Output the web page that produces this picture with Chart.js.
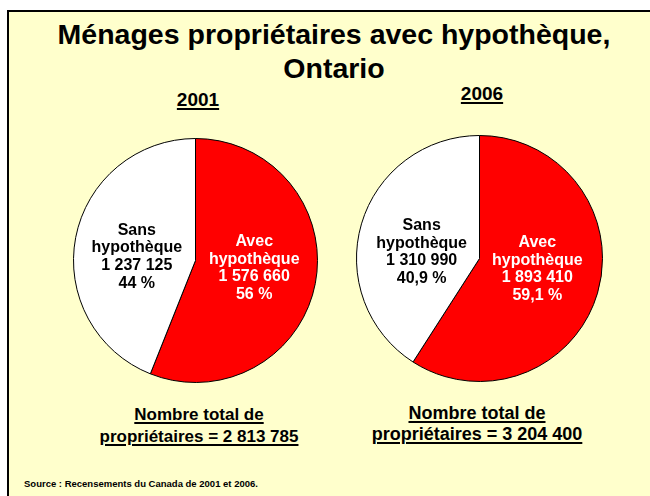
<!DOCTYPE html>
<html>
<head>
<meta charset="utf-8">
<script src="https://cdn.jsdelivr.net/npm/chart.js@4"></script>
<style>
  body { margin: 0; background: #fff; font-family: "Liberation Sans", Arial, sans-serif; }
  #cadre { position: absolute; left: 7px; top: 10px; width: 643px; height: 486px; box-sizing: border-box;
           background: #FFFFCC; border-top: 2px solid #000; border-left: 2px solid #000; }
  .txt { position: absolute; font-weight: bold; color: #000; text-align: center; white-space: nowrap; }
  .sous { text-decoration: underline; text-decoration-thickness: 2px; text-underline-offset: 2px; }
  canvas { position: absolute; }
</style>
</head>
<body>
<div id="cadre"></div>
<div class="txt" style="left:34px; top:17px; width:600px; font-size:28.5px; line-height:34px;">Ménages propriétaires avec hypothèque,<br>Ontario</div>
<div class="txt sous" id="an0" style="left:148px; top:89px; width:100px; font-size:19px; line-height:22px;"></div>
<div class="txt sous" id="an1" style="left:432px; top:83px; width:100px; font-size:19px; line-height:22px;"></div>
<div class="txt sous" id="tot0" style="left:49px; top:404px; width:300px; font-size:17px; line-height:22px;"></div>
<div class="txt sous" id="tot1" style="left:327px; top:403px; width:300px; font-size:18px; line-height:21px;"></div>
<div class="txt" style="left:24px; top:478px; font-size:9.5px; line-height:12px; text-align:left;">Source : Recensements du Canada de 2001 et 2006.</div>

<canvas id="pie2001" width="245" height="245" style="left:73px; top:138px;"></canvas>
<canvas id="pie2006" width="247" height="247" style="left:356px; top:135px;"></canvas>

<script>
const categories = ['Avec hypothèque', 'Sans hypothèque']
const annees = ['2001', '2006']
const menages2001 = [1576660, 1237125]
const menages2006 = [1893410, 1310990]
const pourcent2001 = ['56 %', '44 %']
const pourcent2006 = ['59,1 %', '40,9 %']
const totaux = [2813785, 3204400]
const couleurs = ['#FF0000', '#FFFFFF']
const couleursTexte = ['#FFFFFF', '#000000']

const fmt = n => String(n).replace(/\B(?=(\d{3})+(?!\d))/g, ' ')

annees.forEach((a, i) => {
    document.getElementById('an' + i).textContent = a
    document.getElementById('tot' + i).innerHTML = 'Nombre total de<br>propriétaires = ' + fmt(totaux[i])
})

// etiquettes au centre des tranches
const etiquettes = {
    id: 'etiquettes',
    afterDatasetsDraw(chart, args, opts) {
        const ctx = chart.ctx
        const arcs = chart.getDatasetMeta(0).data
        ctx.save()
        ctx.font = 'bold 16px "Liberation Sans", Arial, sans-serif'
        ctx.textAlign = 'center'
        ctx.textBaseline = 'middle'
        arcs.forEach((arc, i) => {
            const p = arc.getProps(['x', 'y', 'startAngle', 'endAngle', 'outerRadius'], true)
            const mid = (p.startAngle + p.endAngle) / 2
            const x = p.x + 0.49 * p.outerRadius * Math.cos(mid)
            const y = p.y + 0.245 * p.outerRadius * Math.sin(mid) + 2
            const nom = categories[i]
            const k = nom.indexOf(' ')
            const lignes = [nom.slice(0, k), nom.slice(k + 1), fmt(chart.data.datasets[0].data[i]), opts.pourcent[i]]
            ctx.fillStyle = couleursTexte[i]
            lignes.forEach((l, j) => ctx.fillText(l, x, y + (j - 1.5) * 17.6))
        })
        ctx.restore()
    }
}

const faireCamembert = (id, valeurs, pourcent) => new Chart(document.getElementById(id), {
    type: 'pie',
    data: {
        labels: categories,
        datasets: [{
            data: valeurs,
            backgroundColor: couleurs,
            borderColor: '#000000',
            borderWidth: 1
        }]
    },
    options: {
        responsive: false,
        animation: false,
        layout: { padding: 0 },
        plugins: {
            legend: { display: false },
            tooltip: { enabled: false },
            etiquettes: { pourcent: pourcent }
        }
    },
    plugins: [etiquettes]
})

faireCamembert('pie2001', menages2001, pourcent2001)
faireCamembert('pie2006', menages2006, pourcent2006)
</script>
</body>
</html>
